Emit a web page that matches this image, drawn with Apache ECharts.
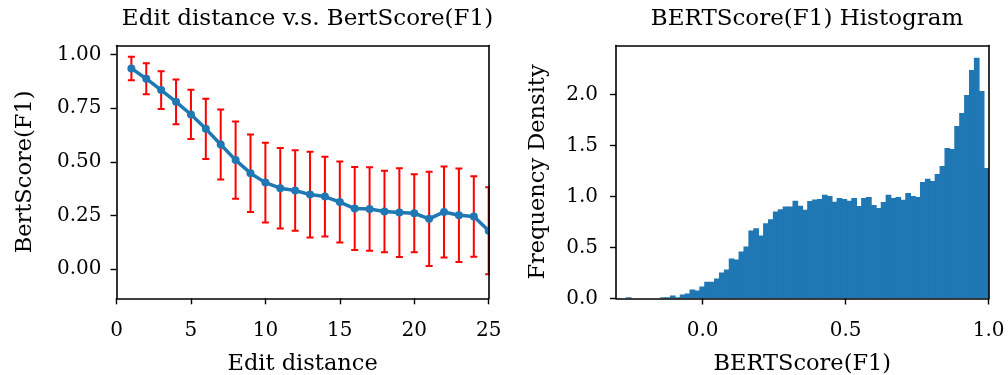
<!DOCTYPE html>
<html>
<head>
<meta charset="utf-8">
<script src="https://cdn.jsdelivr.net/npm/echarts@6/dist/echarts.min.js"></script>
<style>
  html, body { margin: 0; padding: 0; background: #fff; }
  #chart { width: 1008px; height: 375px; }
</style>
</head>
<body>
<div id="chart"></div>
<script>
// Left panel: mean BERTScore(F1) per edit distance, with ±1 std error bars
const editDistance = [1, 2, 3, 4, 5, 6, 7, 8, 9, 10, 11, 12, 13, 14, 15, 16, 17, 18, 19, 20, 21, 22, 23, 24, 25];
const bertMean = [0.936, 0.888, 0.835, 0.780, 0.721, 0.654, 0.581, 0.508, 0.447, 0.403, 0.377, 0.366, 0.347,
                  0.338, 0.312, 0.282, 0.280, 0.268, 0.263, 0.260, 0.234, 0.266, 0.251, 0.245, 0.178];
const bertStd = [0.055, 0.072, 0.088, 0.104, 0.115, 0.141, 0.163, 0.180, 0.181, 0.186, 0.188, 0.188, 0.200,
                 0.186, 0.189, 0.194, 0.195, 0.190, 0.207, 0.182, 0.220, 0.212, 0.218, 0.188, 0.203];
const editTicks = [0, 5, 10, 15, 20, 25];
const scoreTicks = [0, 0.25, 0.5, 0.75, 1.0];

// Right panel: density histogram of BERTScore(F1), equal-width bins over histRange
const histRange = [-0.303, 1.0];
const histDensity = [
  0.004, 0.000, 0.012, 0.000, 0.000, 0.000, 0.000, 0.000, 0.000, 0.012,
  0.012, 0.030, 0.012, 0.040, 0.048, 0.088, 0.078, 0.117, 0.165, 0.165,
  0.196, 0.254, 0.285, 0.392, 0.383, 0.461, 0.510, 0.667, 0.687, 0.618,
  0.737, 0.775, 0.852, 0.873, 0.902, 0.900, 0.958, 0.908, 0.869, 0.956,
  0.969, 0.975, 1.015, 1.005, 0.947, 0.985, 0.975, 0.958, 0.985, 0.907,
  0.985, 0.995, 0.916, 0.887, 0.946, 1.015, 0.985, 0.995, 0.966, 1.034,
  1.005, 0.995, 1.142, 1.172, 1.152, 1.220, 1.298, 1.474, 1.465, 1.690,
  1.817, 1.994, 2.239, 2.357, 2.033, 1.278
];
const histTicks = [0, 0.5, 1.0];
const densityTicks = [0, 0.5, 1.0, 1.5, 2.0];

const FONT = 'DejaVu Serif';
const BLUE = '#1f77b4';
const TICK_SIZE = 20;
const LABEL_SIZE = 22.5;

// bin edges -> [left, right, density]
const binWidth = (histRange[1] - histRange[0]) / histDensity.length;
const histData = histDensity.map((d, i) => [histRange[0] + i * binWidth, histRange[0] + (i + 1) * binWidth, d]);
const errData = editDistance.map((x, i) => [x, bertMean[i] - bertStd[i], bertMean[i] + bertStd[i]]);
const lineData = editDistance.map((x, i) => [x, bertMean[i]]);

const spine = { show: true, onZero: false, lineStyle: { color: '#000', width: 1.6 } };
const tickStyle = { color: '#000', width: 1.4 };

function bottomAxis(gridIndex, min, max, ticks, fmt, name) {
  return {
    type: 'value', gridIndex, position: 'bottom', min, max, z: 10,
    name, nameLocation: 'middle', nameGap: 54,
    nameTextStyle: { fontFamily: FONT, fontSize: LABEL_SIZE, color: '#000' },
    axisLine: spine,
    axisTick: { show: true, inside: false, length: 6, lineStyle: tickStyle, customValues: ticks },
    axisLabel: { show: true, customValues: ticks, formatter: fmt, margin: 22,
                 fontFamily: FONT, fontSize: TICK_SIZE, color: '#000' },
    splitLine: { show: false }
  };
}
function topAxis(gridIndex, min, max) {
  return { type: 'value', gridIndex, position: 'top', min, max, z: 10,
           axisLine: spine, axisTick: { show: false }, axisLabel: { show: false }, splitLine: { show: false } };
}
function leftAxis(gridIndex, min, max, ticks, fmt, name, gap, margin) {
  return {
    type: 'value', gridIndex, position: 'left', min, max, z: 10,
    name, nameLocation: 'middle', nameGap: gap, nameRotate: 90,
    nameTextStyle: { fontFamily: FONT, fontSize: LABEL_SIZE, color: '#000' },
    axisLine: spine,
    axisTick: { show: true, inside: false, length: 6, lineStyle: tickStyle, customValues: ticks },
    axisLabel: { show: true, customValues: ticks, formatter: fmt, margin,
                 fontFamily: FONT, fontSize: TICK_SIZE, color: '#000' },
    splitLine: { show: false }
  };
}
function rightAxis(gridIndex, min, max) {
  return { type: 'value', gridIndex, position: 'right', min, max, z: 10,
           axisLine: spine, axisTick: { show: false }, axisLabel: { show: false }, splitLine: { show: false } };
}

const chart = echarts.init(document.getElementById('chart'), null, { renderer: 'canvas' });
chart.setOption({
  backgroundColor: '#fff',
  animation: false,
  title: [
    { text: 'Edit distance v.s. BertScore(F1)', left: 302.5, top: 3, textAlign: 'center',
      textStyle: { fontFamily: FONT, fontSize: 23, fontWeight: 'normal', color: '#000' } },
    { text: 'BERTScore(F1) Histogram', left: 802, top: 3, textAlign: 'center',
      textStyle: { fontFamily: FONT, fontSize: 23, fontWeight: 'normal', color: '#000' } }
  ],
  grid: [
    { left: 116.5, top: 45.5, width: 372.2, height: 252.8, outerBoundsMode: 'none', containLabel: false },
    { left: 616, top: 45.5, width: 372.6, height: 253, outerBoundsMode: 'none', containLabel: false }
  ],
  xAxis: [
    bottomAxis(0, 0, 25, editTicks, v => String(v), 'Edit distance'),
    topAxis(0, 0, 25),
    bottomAxis(1, histRange[0], histRange[1], histTicks, v => v.toFixed(1), 'BERTScore(F1)'),
    topAxis(1, histRange[0], histRange[1])
  ],
  yAxis: [
    leftAxis(0, -0.137, 1.043, scoreTicks, v => v.toFixed(2), 'BertScore(F1)', 80, 15),
    rightAxis(0, -0.137, 1.043),
    leftAxis(1, 0, 2.478, densityTicks, v => v.toFixed(1), 'Frequency Density', 66, 18),
    rightAxis(1, 0, 2.478)
  ],
  series: [
    {
      type: 'custom', name: 'std', xAxisIndex: 0, yAxisIndex: 0, clip: true, z: 2,
      data: errData,
      encode: { x: 0, y: [1, 2] },
      renderItem: function (params, api) {
        const lo = api.coord([api.value(0), api.value(1)]);
        const hi = api.coord([api.value(0), api.value(2)]);
        const cap = 3.5;
        const style = { stroke: '#ff0000', lineWidth: 2 };
        return {
          type: 'group',
          children: [
            { type: 'line', shape: { x1: lo[0], y1: lo[1], x2: hi[0], y2: hi[1] }, style },
            { type: 'line', shape: { x1: lo[0] - cap, y1: lo[1], x2: lo[0] + cap, y2: lo[1] }, style },
            { type: 'line', shape: { x1: hi[0] - cap, y1: hi[1], x2: hi[0] + cap, y2: hi[1] }, style }
          ]
        };
      }
    },
    {
      type: 'line', name: 'mean', xAxisIndex: 0, yAxisIndex: 0, clip: true, z: 3,
      data: lineData,
      showSymbol: false, symbol: 'none',
      lineStyle: { color: BLUE, width: 3.5 }
    },
    {
      // point markers, clipped to the plot area like the line
      type: 'custom', name: 'mean markers', xAxisIndex: 0, yAxisIndex: 0, clip: true, z: 4,
      data: lineData,
      encode: { x: 0, y: 1 },
      renderItem: function (params, api) {
        const p = api.coord([api.value(0), api.value(1)]);
        return { type: 'circle', shape: { cx: p[0], cy: p[1], r: 4 }, style: { fill: BLUE } };
      }
    },
    {
      type: 'custom', name: 'histogram', xAxisIndex: 2, yAxisIndex: 2, clip: true, z: 2,
      data: histData,
      encode: { x: [0, 1], y: 2 },
      renderItem: function (params, api) {
        const tl = api.coord([api.value(0), api.value(2)]);
        const br = api.coord([api.value(1), 0]);
        return {
          type: 'rect',
          shape: { x: tl[0], y: tl[1], width: br[0] - tl[0] + 0.8, height: br[1] - tl[1] },
          style: { fill: BLUE }
        };
      }
    }
  ]
});
</script>
</body>
</html>
